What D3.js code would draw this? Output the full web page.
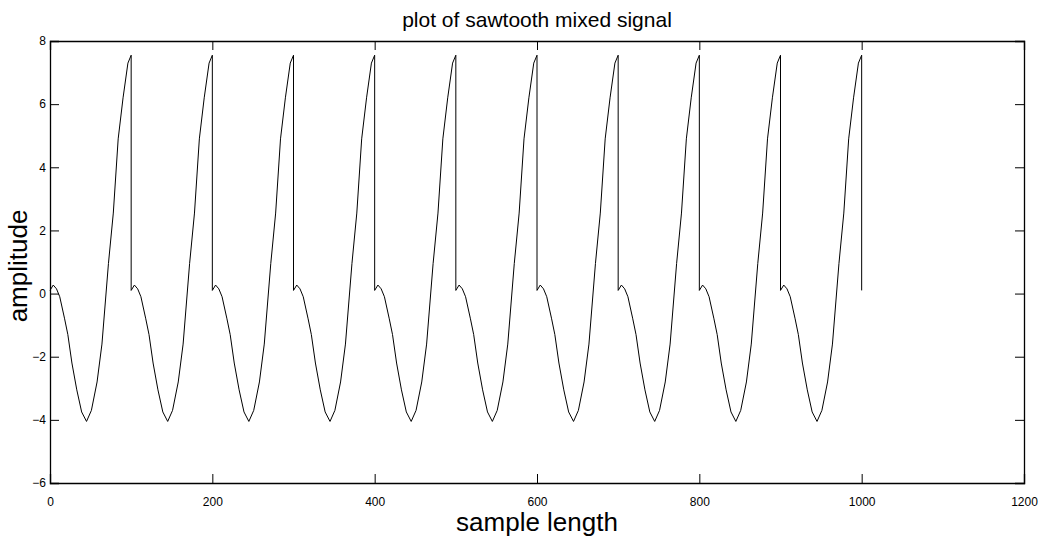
<!DOCTYPE html>
<html lang="en">
<head>
    <meta charset="UTF-8">
    <title>plot of sawtooth mixed signal</title>
    <script src="https://d3js.org/d3.v7.min.js"></script>
    <style>
        body { margin: 0; background: white; }
        svg { display: block; font-family: "Liberation Sans", Arial, sans-serif; }
    </style>
</head>
<body>
    <div id="chart"></div>
    <script>
        // ---------------- data ----------------
        // start sample of each sawtooth period
        const cycleStarts = [0, 100, 200, 300, 400, 500, 600, 700, 800, 900];
        // sample offsets inside one period and the amplitude there
        const periodOffsets = [0, 4, 8, 12, 18, 22, 27, 33, 39, 45, 51, 58, 64, 72, 78, 84, 90, 96, 100];
        const periodValues = [0.1, 0.27, 0.15, -0.1, -0.8, -1.3, -2.2, -3.05, -3.75, -4.05, -3.7, -2.8, -1.6, 0.95, 2.55, 4.9, 6.2, 7.3, 7.55];
        // where the last ramp falls back to
        const endSample = 1000;
        const endValue = 0.1;

        const xTicks = [0, 200, 400, 600, 800, 1000, 1200];
        const yTicks = [-6, -4, -2, 0, 2, 4, 6, 8];

        // ---------------- layout ----------------
        const width = 1046, height = 539;
        const margin = { left: 50, right: 22, top: 41, bottom: 56 };

        const x = d3.scaleLinear().domain([0, 1200]).range([margin.left, width - margin.right]);
        const y = d3.scaleLinear().domain([-6, 8]).range([height - margin.bottom, margin.top]);

        // build the series: the same period repeated at every start
        const series = [];
        cycleStarts.forEach(s => {
            periodOffsets.forEach((o, i) => series.push([s + o, periodValues[i]]));
        });
        series.push([endSample, endValue]);

        const svg = d3.select("#chart").append("svg")
            .attr("width", width)
            .attr("height", height);

        const tickLen = 9;

        // axes with inward ticks on all four sides
        svg.append("g")
            .attr("transform", `translate(0,${y(-6)})`)
            .call(d3.axisBottom(x).tickValues(xTicks).tickSize(-tickLen).tickPadding(14).tickFormat(d3.format("d")));
        svg.append("g")
            .attr("transform", `translate(0,${y(8)})`)
            .call(d3.axisTop(x).tickValues(xTicks).tickSize(-tickLen).tickFormat(""));
        svg.append("g")
            .attr("transform", `translate(${x(0)},0)`)
            .call(d3.axisLeft(y).tickValues(yTicks).tickSize(-tickLen).tickPadding(4).tickFormat(d3.format("d")));
        svg.append("g")
            .attr("transform", `translate(${x(1200)},0)`)
            .call(d3.axisRight(y).tickValues(yTicks).tickSize(-tickLen).tickFormat(""));

        svg.selectAll(".domain").attr("stroke", "#000").attr("stroke-width", 1.3);
        svg.selectAll(".tick line").attr("stroke", "#000");
        svg.selectAll(".tick text")
            .attr("fill", "#000")
            .style("font-size", "12px")
            .style("font-family", "'Liberation Sans', Arial, sans-serif");

        // signal
        const line = d3.line().x(d => x(d[0])).y(d => y(d[1]));
        svg.append("path")
            .datum(series)
            .attr("fill", "none")
            .attr("stroke", "#000")
            .attr("stroke-width", 1)
            .attr("d", line);

        // title and axis labels
        svg.append("text")
            .attr("x", (x(0) + x(1200)) / 2)
            .attr("y", 27)
            .attr("text-anchor", "middle")
            .style("font-size", "21px")
            .text("plot of sawtooth mixed signal");

        svg.append("text")
            .attr("x", (x(0) + x(1200)) / 2)
            .attr("y", 531)
            .attr("text-anchor", "middle")
            .style("font-size", "26px")
            .text("sample length");

        svg.append("text")
            .attr("transform", `translate(27,${(y(-6) + y(8)) / 2 + 4}) rotate(-90)`)
            .attr("text-anchor", "middle")
            .style("font-size", "26px")
            .text("amplitude");
    </script>
</body>
</html>
